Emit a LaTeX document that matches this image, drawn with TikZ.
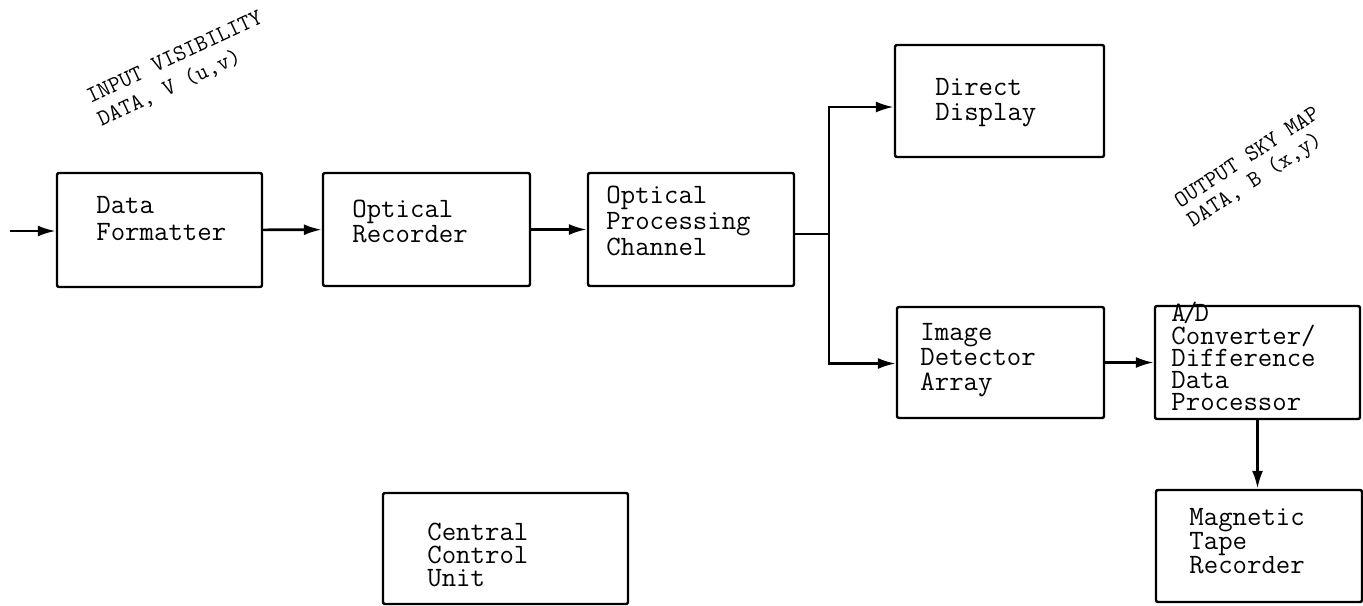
\documentclass[tikz,border=0pt]{standalone}
\usetikzlibrary{arrows.meta}

\tikzstyle{block}=[draw,black,line width=1.2pt,rounded corners=1pt,inner sep=0pt]
\tikzstyle{txt}=[font=\ttfamily\fontsize{14pt}{12.5pt}\selectfont,align=left,inner sep=0pt,anchor=north west]
\tikzstyle{note}=[font=\ttfamily\fontsize{11.6pt}{13pt}\selectfont,align=left,inner sep=0pt,anchor=north west]
\tikzstyle{flow}=[line width=1.3pt,-{Latex[length=9pt,width=5.5pt]}]

\begin{document}
\begin{tikzpicture}[x=0.5pt,y=-0.5pt]
    \useasboundingbox (0,0) rectangle (1363,605);
    % blocks
    \node (fmt)[block,minimum width=102.5pt,minimum height=57pt] at (159.5,230) {};
    \node (rec)[block,minimum width=103.5pt,minimum height=56.5pt] at (426.5,229.5) {};
    \node (proc)[block,minimum width=103pt,minimum height=56.5pt] at (691,229.5) {};
    \node (disp)[block,minimum width=104.5pt,minimum height=56pt] at (999.5,101) {};
    \node (det)[block,minimum width=103.5pt,minimum height=55.5pt] at (1000.5,362.5) {};
    \node (adc)[block,minimum width=102.5pt,minimum height=56.5pt] at (1257.5,362.5) {};
    \node (mag)[block,minimum width=103pt,minimum height=56pt] at (1259,546) {};
    \node (ccu)[block,minimum width=122.5pt,minimum height=55.5pt] at (505.5,548.5) {};
    % block texts
    \node (fmt-t)[txt,font=\ttfamily\fontsize{14pt}{13.5pt}\selectfont] at (96,196) {Data\\Formatter};
    \node (rec-t)[txt] at (352,200) {Optical\\Recorder};
    \node (proc-t)[txt,font=\ttfamily\fontsize{14pt}{13pt}\selectfont] at (606,186) {Optical\\Processing\\Channel};
    \node (disp-t)[txt] at (935,78) {Direct\\Display};
    \node (det-t)[txt] at (920,323) {Image\\Detector\\Array};
    \node (adc-t)[txt,font=\ttfamily\fontsize{14pt}{11.1pt}\selectfont] at (1171,302) {A\kern-.1em/\kern-.1em D\\Converter/\\Difference\\Data\\Processor};
    \node (mag-t)[txt,font=\ttfamily\fontsize{14pt}{12pt}\selectfont] at (1189,508) {Magnetic\\Tape\\Recorder};
    \node (ccu-t)[txt,font=\ttfamily\fontsize{14pt}{11.5pt}\selectfont] at (427,523) {Central\\Control\\Unit};
    % slanted notes
    \node (in-note)[note,rotate=25] at (84,90) {INPUT VISIBILITY\\DATA, V (u,v)};
    \node (out-note)[note,rotate=33,font=\ttfamily\fontsize{11.6pt}{11.5pt}\selectfont] at (1172,196) {OUTPUT SKY MAP\\DATA, B (x,y)};
    % signal flow
    \coordinate (in) at (10,231);
    \coordinate (split) at (829,234);
    \draw[flow] (in) -- (in -| fmt.west);
    \draw[flow] (fmt) -- (rec);
    \draw[flow] (rec) -- (proc);
    \draw[line width=1.3pt] (split -| proc.east) -- (split);
    \draw[flow] (split) |- ([yshift=-3pt]disp.west);
    \draw[flow] (split) |- ([yshift=-0.5pt]det.west);
    \draw[flow] (det) -- (adc);
    \draw[flow] (adc.south) -- (adc.south |- mag.north);
\end{tikzpicture}
\end{document}
